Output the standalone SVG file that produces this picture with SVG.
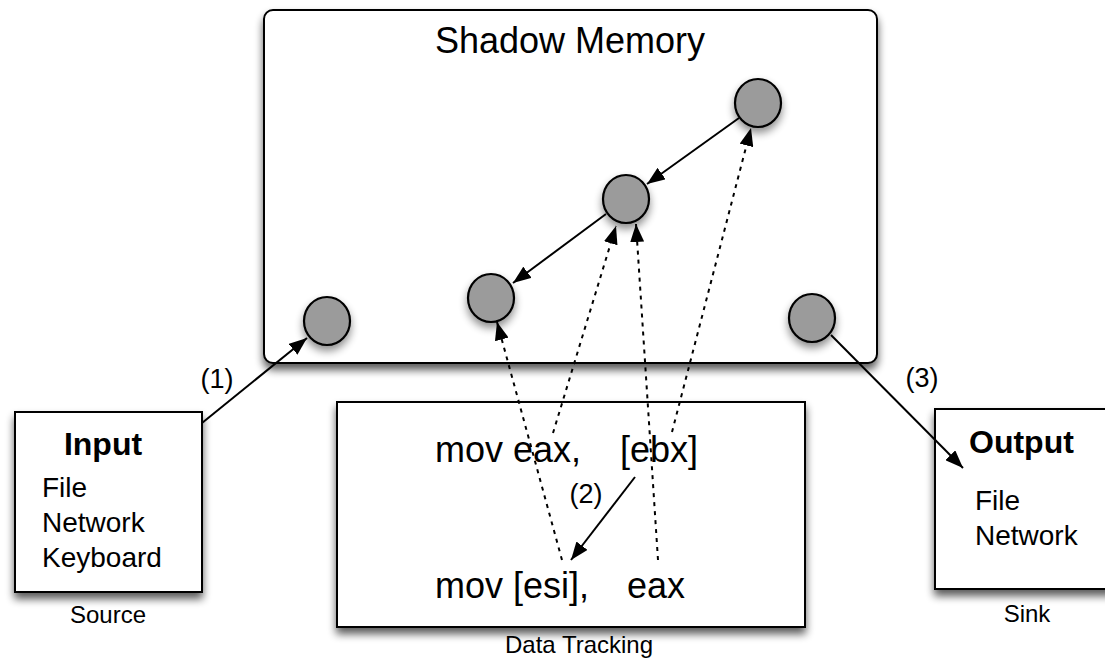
<svg xmlns="http://www.w3.org/2000/svg" width="1105" height="659" viewBox="0 0 1105 659">
<style>
  .box { fill: #ffffff; stroke: #000000; stroke-width: 2; filter: url(#shadow); }
  .node { fill: #9b9b9b; stroke: #000000; stroke-width: 2.2; filter: url(#cshadow); }
  .edge { fill: none; stroke: #000000; stroke-width: 2; }
  .dot { fill: none; stroke: #000000; stroke-width: 2; stroke-dasharray: 4 5; }
  text { font-family: "Liberation Sans", Arial, Helvetica, sans-serif; fill: #000000; }
  .title { font-size: 36px; }
  .code { font-size: 36px; }
  .head { font-size: 32px; font-weight: bold; }
  .item { font-size: 28px; }
  .cap { font-size: 24px; }
  .lbl { font-size: 27px; }
</style>
<defs>
  <filter id="shadow" x="-10%" y="-10%" width="120%" height="130%">
    <feGaussianBlur in="SourceAlpha" stdDeviation="4"/>
    <feOffset dx="0" dy="6" result="b"/>
    <feComponentTransfer><feFuncA type="linear" slope="0.65"/></feComponentTransfer>
    <feMerge><feMergeNode/><feMergeNode in="SourceGraphic"/></feMerge>
  </filter>
  <filter id="cshadow" x="-50%" y="-50%" width="200%" height="220%">
    <feGaussianBlur in="SourceAlpha" stdDeviation="4"/>
    <feOffset dx="0" dy="5" result="b"/>
    <feComponentTransfer><feFuncA type="linear" slope="0.45"/></feComponentTransfer>
    <feMerge><feMergeNode/><feMergeNode in="SourceGraphic"/></feMerge>
  </filter>
  <marker id="arrow" markerUnits="userSpaceOnUse" markerWidth="20" markerHeight="14" refX="18" refY="7" orient="auto">
    <path d="M0,0 L18,7 L0,14 z" fill="#000000"/>
  </marker>
</defs>

<g id="shadow-memory">
  <rect class="box" x="264" y="10" width="613" height="353" rx="9" ry="9"/>
  <text class="title" x="570" y="53" text-anchor="middle">Shadow Memory</text>
</g>

<g id="data-tracking">
  <rect class="box" x="337" y="402" width="468" height="225"/>
  <text class="code" y="462"><tspan x="435">mov eax,</tspan><tspan x="620">[ebx]</tspan></text>
  <text class="code" y="598"><tspan x="435">mov [esi],</tspan><tspan x="627">eax</tspan></text>
  <text class="cap" x="579" y="653" text-anchor="middle">Data Tracking</text>
</g>

<g id="input">
  <rect class="box" x="15" y="412" width="187" height="180"/>
  <text class="head" x="103" y="455" text-anchor="middle">Input</text>
  <text class="item" x="42" y="497">File</text>
  <text class="item" x="42" y="532">Network</text>
  <text class="item" x="42" y="567">Keyboard</text>
  <text class="cap" x="108" y="623" text-anchor="middle">Source</text>
</g>

<g id="output">
  <rect class="box" x="935" y="409" width="185" height="180"/>
  <text class="head" x="969" y="453">Output</text>
  <text class="item" x="975" y="510">File</text>
  <text class="item" x="975" y="545">Network</text>
  <text class="cap" x="1027" y="622" text-anchor="middle">Sink</text>
</g>

<g id="node-top"><ellipse class="node" cx="758" cy="103" rx="23" ry="24"/></g>
<g id="node-mid"><ellipse class="node" cx="626" cy="199" rx="23" ry="24"/></g>
<g id="node-left"><ellipse class="node" cx="491" cy="298" rx="23" ry="24"/></g>
<g id="node-src"><ellipse class="node" cx="327" cy="321" rx="23" ry="24"/></g>
<g id="node-sink"><ellipse class="node" cx="812" cy="318" rx="23" ry="24"/></g>

<g id="connectors">
  <line class="edge" x1="202" y1="423" x2="307" y2="338" marker-end="url(#arrow)"/>
  <line class="edge" x1="739" y1="118" x2="647" y2="184" marker-end="url(#arrow)"/>
  <line class="edge" x1="606" y1="214" x2="513" y2="283" marker-end="url(#arrow)"/>
  <line class="edge" x1="635" y1="477" x2="571" y2="560" marker-end="url(#arrow)"/>
  <line class="edge" x1="831" y1="335" x2="963" y2="468" marker-end="url(#arrow)"/>
  <line class="dot" x1="562" y1="560" x2="497" y2="322" marker-end="url(#arrow)"/>
  <line class="dot" x1="553" y1="433" x2="616" y2="226" marker-end="url(#arrow)"/>
  <line class="dot" x1="658" y1="560" x2="636" y2="224" marker-end="url(#arrow)"/>
  <line class="dot" x1="672" y1="432" x2="751" y2="128" marker-end="url(#arrow)"/>
  <text class="lbl" x="217" y="388" text-anchor="middle">(1)</text>
  <text class="lbl" x="586" y="503" text-anchor="middle">(2)</text>
  <text class="lbl" x="922" y="387" text-anchor="middle">(3)</text>
</g>
</svg>
